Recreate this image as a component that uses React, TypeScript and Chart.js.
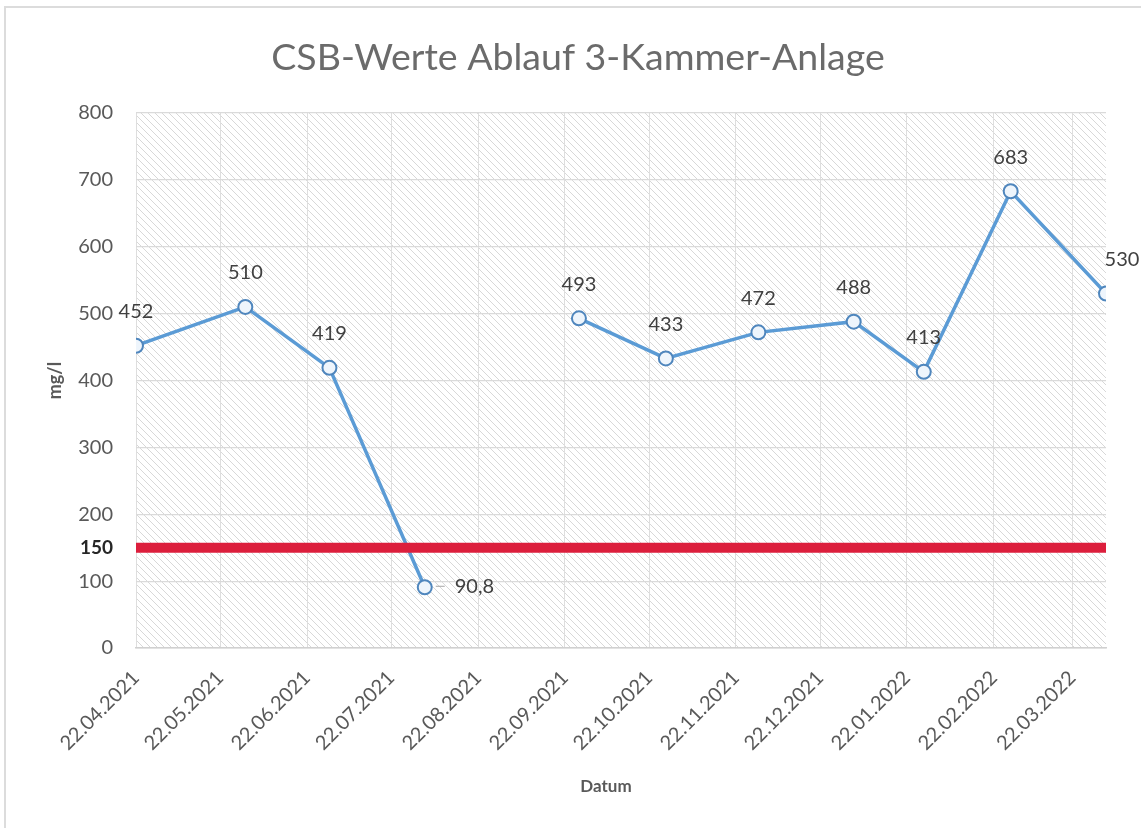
import React, { useEffect, useRef } from 'react';
import { Chart, registerables } from 'chart.js';

Chart.register(...registerables);

// ---- data ----
const chartTitle = 'CSB-Werte Ablauf 3-Kammer-Anlage';
const yAxisTitle = 'mg/l';
const xAxisTitle = 'Datum';

const sampleDates = [
  '22.04.2021', '31.05.2021', '30.06.2021', '03.08.2021', '01.09.2021', '27.09.2021',
  '28.10.2021', '30.11.2021', '03.01.2022', '28.01.2022', '28.02.2022', '03.04.2022',
];
const csbValues: (number | null)[] = [452, 510, 419, 90.8, null, 493, 433, 472, 488, 413, 683, 530];

const limitValue = 150;

const xTickLabels = [
  '22.04.2021', '22.05.2021', '22.06.2021', '22.07.2021', '22.08.2021', '22.09.2021',
  '22.10.2021', '22.11.2021', '22.12.2021', '22.01.2022', '22.02.2022', '22.03.2022',
];
const yTickValues = [0, 100, 150, 200, 300, 400, 500, 600, 700, 800];

// ---- helpers ----
const toDay = (s: string) => {
  const [d, m, y] = s.split('.').map(Number);
  return Date.UTC(y, m - 1, d) / 86400000;
};
const xMin = toDay(sampleDates[0]);
const xMax = toDay(sampleDates[sampleDates.length - 1]);
const tickLabelByDay = new Map<number, string>(xTickLabels.map((l) => [toDay(l), l]));

const FONT = 'Lato, "Open Sans", sans-serif';

const hatchPlugin = {
  id: 'hatch',
  beforeDraw(chart: any) {
    const { ctx, chartArea: a } = chart;
    const tile = document.createElement('canvas');
    tile.width = 7;
    tile.height = 7;
    const t = tile.getContext('2d')!;
    t.fillStyle = '#ffffff';
    t.fillRect(0, 0, 7, 7);
    t.strokeStyle = '#d8d8d8';
    t.lineWidth = 1;
    t.beginPath();
    t.moveTo(-1, -1);
    t.lineTo(8, 8);
    t.moveTo(-1, 6);
    t.lineTo(1, 8);
    t.moveTo(6, -1);
    t.lineTo(8, 1);
    t.stroke();
    const pat = ctx.createPattern(tile, 'repeat');
    ctx.save();
    ctx.fillStyle = pat;
    ctx.fillRect(a.left, a.top, a.right - a.left, a.bottom - a.top);
    ctx.restore();
  },
};

const labelPlugin = {
  id: 'pointLabels',
  afterDatasetsDraw(chart: any) {
    const { ctx } = chart;
    const meta = chart.getDatasetMeta(1);
    ctx.save();
    ctx.font = `20px ${FONT}`;
    ctx.fillStyle = '#404040';
    ctx.textBaseline = 'middle';
    meta.data.forEach((pt: any, i: number) => {
      const v = csbValues[i];
      if (v === null || v === undefined) return;
      const txt = String(v).replace('.', ',');
      if (v < limitValue) {
        ctx.strokeStyle = '#a6a6a6';
        ctx.lineWidth = 1;
        ctx.beginPath();
        ctx.moveTo(pt.x + 11, pt.y - 1);
        ctx.lineTo(pt.x + 20, pt.y - 1);
        ctx.stroke();
        ctx.textAlign = 'left';
        ctx.fillText(txt, pt.x + 30, pt.y - 1);
      } else {
        ctx.textAlign = 'center';
        const dx = i === csbValues.length - 1 ? 16 : 0;
        ctx.fillText(txt, pt.x + dx, pt.y - 34);
      }
    });
    ctx.restore();
  },
};

const textPlugin = {
  id: 'texts',
  afterDraw(chart: any) {
    const { ctx, chartArea: a } = chart;
    ctx.save();
    ctx.textAlign = 'center';
    ctx.textBaseline = 'middle';
    ctx.fillStyle = '#6b6b6b';
    ctx.font = `37.5px ${FONT}`;
    ctx.fillText(chartTitle, 578, 58);

    ctx.fillStyle = '#595959';
    ctx.font = `bold 17px ${FONT}`;
    ctx.fillText(xAxisTitle, 606, 787);

    ctx.translate(55, (a.top + a.bottom) / 2);
    ctx.rotate(-Math.PI / 2);
    ctx.font = `bold 18px ${FONT}`;
    ctx.fillText(yAxisTitle, 0, 0);
    ctx.restore();
  },
};

export default function App() {
  const ref = useRef<HTMLCanvasElement | null>(null);

  useEffect(() => {
    if (!ref.current) return;
    const chart = new Chart(ref.current, {
      type: 'line',
      data: {
        datasets: [
          {
            label: 'Grenzwert',
            data: [
              { x: xMin, y: limitValue },
              { x: xMax, y: limitValue },
            ],
            borderColor: '#dc1e3c',
            borderWidth: 10,
            pointRadius: 0,
            borderCapStyle: 'butt',
          },
          {
            label: 'CSB',
            data: sampleDates.map((d, i) => ({ x: toDay(d), y: csbValues[i] })),
            borderColor: '#5b9bd5',
            borderWidth: 3.5,
            pointRadius: 7,
            pointBorderWidth: 2,
            pointBackgroundColor: '#eef5fc',
            pointBorderColor: '#4f86bd',
            spanGaps: false,
          },
        ],
      } as any,
      options: {
        animation: false,
        responsive: false,
        layout: { padding: { top: 113, right: 35, left: 0, bottom: 0 } },
        plugins: {
          legend: { display: false },
          title: { display: false },
          tooltip: { enabled: false },
        },
        scales: {
          x: {
            type: 'linear',
            min: xMin,
            max: xMax,
            afterBuildTicks: (scale: any) => {
              scale.ticks = xTickLabels.map((l) => ({ value: toDay(l) }));
            },
            afterFit: (scale: any) => {
              scale.height = 180;
            },
            grid: { color: '#dedede', lineWidth: 1, drawTicks: false },
            border: { color: '#d0d0d0', width: 1.5 },
            ticks: {
              autoSkip: false,
              maxRotation: 45,
              minRotation: 45,
              padding: 18,
              color: '#595959',
              font: { family: FONT, size: 20 },
              callback: (v: any) => tickLabelByDay.get(Number(v)) ?? '',
            },
          },
          y: {
            min: 0,
            max: 800,
            afterBuildTicks: (scale: any) => {
              scale.ticks = yTickValues.map((v) => ({ value: v }));
            },
            afterFit: (scale: any) => {
              scale.width = 136;
            },
            grid: {
              drawTicks: false,
              lineWidth: 1.2,
              color: (c: any) => (c.tick && c.tick.value === limitValue ? 'rgba(0,0,0,0)' : '#dadada'),
            },
            border: { display: false },
            ticks: {
              padding: 23,
              color: (c: any) => (c.tick && c.tick.value === limitValue ? '#262626' : '#595959'),
              font: (c: any) =>
                c.tick && c.tick.value === limitValue
                  ? { family: FONT, size: 19, weight: 'bold' }
                  : { family: FONT, size: 20 },
              callback: (v: any) => String(v),
            },
          },
        },
      } as any,
      plugins: [hatchPlugin, labelPlugin, textPlugin],
    });
    return () => chart.destroy();
  }, []);

  return (
    <div style={{ position: 'absolute', left: 0, top: 0, width: 1141, height: 828, background: '#fff', overflow: 'hidden' }}>
      <div
        style={{
          position: 'absolute',
          left: 4,
          top: 6,
          width: 1200,
          height: 900,
          borderLeft: '2px solid #dcdcdc',
          borderTop: '2px solid #dcdcdc',
        }}
      />
      <canvas ref={ref} width={1141} height={828} style={{ position: 'absolute', left: 0, top: 0 }} />
    </div>
  );
}
